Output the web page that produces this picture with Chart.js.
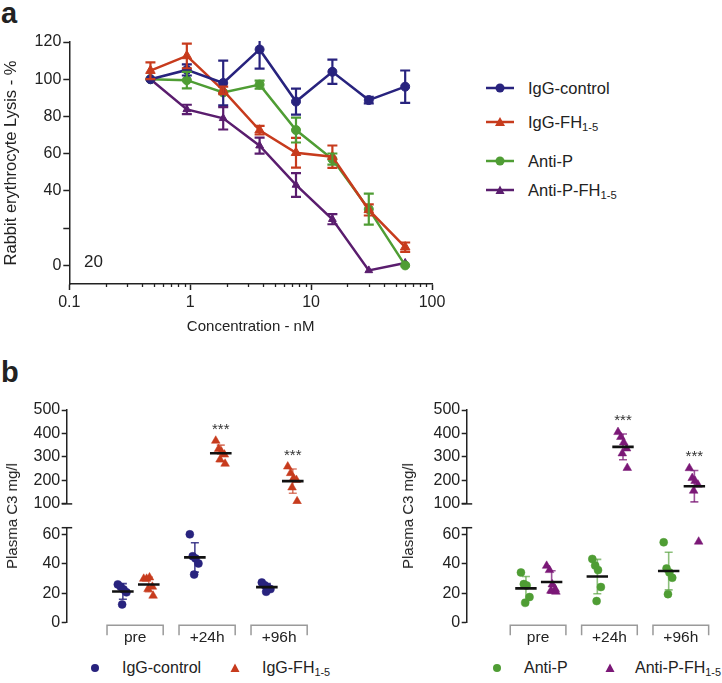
<!DOCTYPE html>
<html>
<head>
<meta charset="utf-8">
<title>Lysis and plasma C3</title>
<script src="https://cdn.jsdelivr.net/npm/chart.js@4.4.1/dist/chart.umd.min.js"></script>
<style>
  body { margin: 0; background: #fff; font-family: "Liberation Sans", Arial, sans-serif; color: #222; }
  #page { position: relative; width: 722px; height: 683px; overflow: hidden; }
  #page canvas, .txt, .leg { position: absolute; }
  .panel { font-weight: bold; font-size: 29px; line-height: 1; }
  .ytitle { font-size: 15px; line-height: 18px; white-space: nowrap; transform: translate(-50%, -50%) rotate(-90deg); }
  .leg { display: flex; align-items: center; height: 20px; white-space: nowrap; }
  .leg span { line-height: 20px; }
  sub { font-size: 0.68em; vertical-align: -0.3em; line-height: 0; }
</style>
</head>
<body>
<div id="page">
  <div class="txt panel" style="left:1px;top:-1px">a</div>
  <div class="txt panel" style="left:1px;top:358px">b</div>

  <canvas id="lysis" width="460" height="340" style="left:0;top:0"></canvas>
  <div class="txt" style="left:84px;top:253px;font-size:17px;line-height:1">20</div>

  <div class="leg" style="left:486px;top:78px;font-size:16.5px">
    <svg width="28" height="12" style="margin-right:14px"><line x1="0" y1="6" x2="28" y2="6" stroke="#28237e" stroke-width="2.5"/><circle cx="14" cy="6" r="4.5" fill="#28237e"/></svg>
    <span>IgG-control</span></div>
  <div class="leg" style="left:486px;top:112px;font-size:16.5px">
    <svg width="28" height="12" style="margin-right:14px"><line x1="0" y1="6" x2="28" y2="6" stroke="#c73b1d" stroke-width="2.5"/><polygon points="14,1 19,10 9,10" fill="#c73b1d"/></svg>
    <span>IgG-FH<sub>1-5</sub></span></div>
  <div class="leg" style="left:486px;top:151px;font-size:16.5px">
    <svg width="28" height="12" style="margin-right:14px"><line x1="0" y1="6" x2="28" y2="6" stroke="#4f9d34" stroke-width="2.5"/><circle cx="14" cy="6" r="4.5" fill="#4f9d34"/></svg>
    <span>Anti-P</span></div>
  <div class="leg" style="left:486px;top:180px;font-size:16.5px">
    <svg width="28" height="12" style="margin-right:14px"><line x1="0" y1="6" x2="28" y2="6" stroke="#5a1d6e" stroke-width="2.5"/><polygon points="14,1.5 18.5,10 9.5,10" fill="#5a1d6e"/></svg>
    <span>Anti-P-FH<sub>1-5</sub></span></div>

  <canvas id="c3IggHigh" width="340" height="120" style="left:0;top:395px"></canvas>
  <canvas id="c3IggLow" width="340" height="135" style="left:0;top:515px"></canvas>
  <canvas id="c3AntiHigh" width="322" height="120" style="left:400px;top:395px"></canvas>
  <canvas id="c3AntiLow" width="322" height="135" style="left:400px;top:515px"></canvas>
  <div class="txt ytitle" style="left:12px;top:516px">Plasma C3 mg/l</div>
  <div class="txt ytitle" style="left:408px;top:516px">Plasma C3 mg/l</div>

  <div class="leg" style="left:90px;top:658px;font-size:16px">
    <svg width="10" height="10" style="margin-right:22px"><circle cx="5" cy="5" r="4" fill="#28237e"/></svg><span>IgG-control</span></div>
  <div class="leg" style="left:230px;top:658px;font-size:16px">
    <svg width="10" height="10" style="margin-right:22px"><polygon points="5,0.5 9.5,9 0.5,9" fill="#c73b1d"/></svg><span>IgG-FH<sub>1-5</sub></span></div>
  <div class="leg" style="left:492px;top:658px;font-size:16px">
    <svg width="10" height="10" style="margin-right:22px"><circle cx="5" cy="5" r="4" fill="#4f9d34"/></svg><span>Anti-P</span></div>
  <div class="leg" style="left:605px;top:658px;font-size:16px">
    <svg width="10" height="10" style="margin-right:20px"><polygon points="5,0.5 9.5,9 0.5,9" fill="#7b1877"/></svg><span>Anti-P-FH<sub>1-5</sub></span></div>
</div>

<script>
const AXIS = '#222';
const NAVY = '#28237e', RED = '#c73b1d', GREEN = '#4f9d34', PURPLE = '#5a1d6e', MAGENTA = '#7b1877';

// panel a - lysis vs concentration (mean +/- error)
const CONC = [0.469, 0.938, 1.875, 3.75, 7.5, 15, 30, 60];
const LYSIS_IGG_CTRL = [100, 105, 98, 116, 88, 104, 88.8, 96];
const ERR_IGG_CTRL = [0, 3, 12, 10.3, 7, 6.5, 1.8, 8.7];
const LYSIS_IGG_FH = [104.6, 112.5, 94, 72.6, 60.5, 58.4, 29.8, 9.8];
const ERR_IGG_FH = [4.5, 6.6, 2, 2.3, 8, 6, 3, 2.5];
const LYSIS_ANTI_P = [100, 99.5, 92.9, 97.1, 72.7, 57.1, 30.2, 0];
const ERR_ANTI_P = [0, 4.4, 0, 2.2, 6.7, 3, 8.3, 0];
const LYSIS_ANTI_P_FH = [100, 83.8, 79, 64.3, 43.2, 24.8, -2.7, 1.3];
const ERR_ANTI_P_FH = [0, 2.5, 6, 4.3, 6.4, 2.7, 0, 0];
const X_MAJOR = [0.1, 1, 10, 100];
const Y_TICKS = [0, 20, 40, 60, 80, 100, 120];
const Y_LABELS = ['0', '', '40', '60', '80', '100', '120'];

// panel b - plasma C3 per animal, one inner array per time point
const GROUPS = ['pre', '+24h', '+96h'];
const SIGNIF = ['', '***', '***'];
const C3_IGG_CTRL = [[26, 24.4, 22.6, 20.6, 12.4], [60, 45.1, 43.6, 40.2, 32.7], [27.3, 25.5, 24, 22.8, 21]];
const C3_IGG_FH = [[29.8, 29.8, 30.7, 24.4, 22.8, 18.3], [369, 334, 322, 310, 289, 271], [259, 231, 209, 202, 170, 111]];
const C3_ANTI_P = [[34.1, 26.2, 25.3, 17.4, 13.5], [43.3, 38.8, 35.7, 24.2, 14.7], [54.6, 36.8, 34.1, 30.5, 19.4]];
const C3_ANTI_P_FH = [[38.6, 35.7, 26, 22.8, 21.7, 21], [406, 385, 362, 336, 315, 253], [252, 210, 198, 182, 156, 55]];
const C3_HIGH_TICKS = [100, 200, 300, 400, 500];
const C3_LOW_TICKS = [0, 20, 40, 60];

const JITTER = [-0.07, -0.03, 0.01, 0.05, -0.01, 0.06];

Chart.defaults.font.family = '"Liberation Sans", Arial, sans-serif';
Chart.defaults.font.size = 16;
Chart.defaults.color = AXIS;

const mean = a => a.reduce((s, v) => s + v, 0) / a.length;
const sd = a => { const m = mean(a); return Math.sqrt(a.reduce((s, v) => s + (v - m) ** 2, 0) / (a.length - 1)); };

function clipArea(ctx, a) {
  ctx.beginPath();
  ctx.rect(a.left, a.top - 1, a.right - a.left, a.bottom - a.top + 2);
  ctx.clip();
}

function seg(ctx, x1, y1, x2, y2) {
  ctx.beginPath(); ctx.moveTo(x1, y1); ctx.lineTo(x2, y2); ctx.stroke();
}

const errorBars = {
  id: 'errorBars',
  afterDatasetsDraw(chart) {
    const { ctx, chartArea, scales: { x, y } } = chart;
    ctx.save();
    clipArea(ctx, chartArea);
    ctx.lineWidth = 2.2;
    chart.data.datasets.forEach(ds => {
      ctx.strokeStyle = ds.borderColor;
      ds.data.forEach((p, i) => {
        const e = ds.errs[i];
        if (!e) return;
        const px = x.getPixelForValue(p.x);
        const top = y.getPixelForValue(p.y + e), bot = y.getPixelForValue(p.y - e);
        seg(ctx, px, top, px, bot);
        seg(ctx, px - 5, top, px + 5, top);
        seg(ctx, px - 5, bot, px + 5, bot);
      });
    });
    ctx.restore();
  }
};

const minorTicks = {
  id: 'minorTicks',
  afterDraw(chart) {
    const { ctx, chartArea, scales: { x } } = chart;
    ctx.save();
    ctx.strokeStyle = AXIS; ctx.lineWidth = 1.3;
    x.ticks.forEach(t => {
      if (X_MAJOR.includes(t.value)) return;
      const px = Math.round(x.getPixelForValue(t.value)) + 0.5;
      seg(ctx, px, chartArea.bottom, px, chartArea.bottom + 3);
    });
    ctx.restore();
  }
};

function lysisSet(label, values, errs, color, style, radius) {
  return {
    label, errs,
    data: CONC.map((c, i) => ({ x: c, y: values[i] })),
    borderColor: color, backgroundColor: color,
    borderWidth: 2.5, pointStyle: style, pointRadius: radius, pointBorderWidth: 1,
    tension: 0
  };
}

const xTicks = [];
X_MAJOR.forEach((d, k) => {
  xTicks.push(d);
  if (k < X_MAJOR.length - 1) [2, 3, 4, 5, 6, 7, 8, 9].forEach(m => xTicks.push(d * m));
});

new Chart(document.getElementById('lysis'), {
  type: 'line',
  data: {
    datasets: [
      lysisSet('IgG-control', LYSIS_IGG_CTRL, ERR_IGG_CTRL, NAVY, 'circle', 4.5),
      lysisSet('IgG-FH1-5', LYSIS_IGG_FH, ERR_IGG_FH, RED, 'triangle', 5.5),
      lysisSet('Anti-P', LYSIS_ANTI_P, ERR_ANTI_P, GREEN, 'circle', 4.5),
      lysisSet('Anti-P-FH1-5', LYSIS_ANTI_P_FH, ERR_ANTI_P_FH, PURPLE, 'triangle', 4.5)
    ]
  },
  options: {
    responsive: false, animation: false, devicePixelRatio: 1, events: [],
    layout: { padding: { top: 42, right: 28, bottom: 0, left: 0 } },
    plugins: { legend: { display: false }, tooltip: { enabled: false } },
    scales: {
      x: {
        type: 'logarithmic', min: 0.1, max: 100,
        afterBuildTicks: s => { s.ticks = xTicks.map(v => ({ value: v })); },
        afterFit: s => { s.height = 56; },
        ticks: { autoSkip: false, maxRotation: 0, padding: 3, callback: v => X_MAJOR.includes(v) ? String(v) : '' },
        grid: { drawOnChartArea: false, tickLength: 6, tickWidth: 1.5,
                tickColor: c => X_MAJOR.includes(c.tick.value) ? AXIS : 'rgba(0,0,0,0)' },
        border: { color: AXIS, width: 1.5 },
        title: { display: true, text: 'Concentration - nM', font: { size: 15 }, padding: { top: 4, bottom: 4 } }
      },
      y: {
        min: -10, max: 120,
        afterBuildTicks: s => { s.ticks = Y_TICKS.map(v => ({ value: v })); },
        afterFit: s => { s.width = 69.3; },
        ticks: { padding: 2, autoSkip: false, callback: (v, i) => Y_LABELS[i] },
        grid: { drawOnChartArea: false, tickLength: 6, tickWidth: 1.5, tickColor: AXIS },
        border: { color: AXIS, width: 1.5 },
        title: { display: true, text: 'Rabbit erythrocyte Lysis - %', font: { size: 16.5 }, padding: { top: 2, bottom: 0 } }
      }
    }
  },
  plugins: [errorBars, minorTicks]
});

// panel b helpers
const meanSd = {
  id: 'meanSd',
  beforeDatasetsDraw(chart) {
    const { ctx, chartArea, scales: { x, y } } = chart;
    ctx.save();
    clipArea(ctx, chartArea);
    ctx.lineWidth = 1.6;
    chart.data.datasets.forEach(ds => {
      ctx.strokeStyle = ds.sdColor;
      ds.groups.forEach((vals, g) => {
        const m = mean(vals), s = sd(vals);
        const px = x.getPixelForValue(g + ds.offset);
        const top = y.getPixelForValue(m + s), bot = y.getPixelForValue(m - s);
        seg(ctx, px, top, px, bot);
        seg(ctx, px - 4, top, px + 4, top);
        seg(ctx, px - 4, bot, px + 4, bot);
      });
    });
    ctx.restore();
  },
  afterDatasetsDraw(chart) {
    const { ctx, chartArea, scales: { x, y } } = chart;
    ctx.save();
    clipArea(ctx, chartArea);
    ctx.strokeStyle = '#111'; ctx.lineWidth = 2.6;
    chart.data.datasets.forEach(ds => {
      ds.groups.forEach((vals, g) => {
        const py = y.getPixelForValue(mean(vals));
        seg(ctx, x.getPixelForValue(g + ds.offset - 0.15), py, x.getPixelForValue(g + ds.offset + 0.15), py);
      });
    });
    ctx.restore();
  }
};

const stars = {
  id: 'stars',
  afterDatasetsDraw(chart) {
    const { ctx, scales: { x, y } } = chart;
    const ds = chart.data.datasets[1];
    ctx.save();
    ctx.fillStyle = '#333'; ctx.font = '15px "Liberation Sans", Arial'; ctx.textAlign = 'center'; ctx.textBaseline = 'middle';
    SIGNIF.forEach((s, g) => {
      if (!s) return;
      ctx.fillText(s, x.getPixelForValue(g + ds.offset), y.getPixelForValue(Math.max(...ds.groups[g])) - 11);
    });
    ctx.restore();
  }
};

const axisBreak = {
  id: 'axisBreak',
  afterDraw(chart, args, opts) {
    const { ctx, chartArea } = chart;
    const py = opts.at === 'bottom' ? chartArea.bottom : chartArea.top;
    ctx.save();
    ctx.strokeStyle = AXIS; ctx.lineWidth = 1.5;
    seg(ctx, chartArea.left - 5, py, chartArea.left + 5.5, py);
    ctx.restore();
  }
};

const brackets = {
  id: 'brackets',
  afterDraw(chart) {
    const { ctx, chartArea, scales: { x } } = chart;
    if (!x.options.display) return;
    const t = chartArea.bottom + 2.5;
    ctx.save();
    ctx.strokeStyle = '#9a9a9a'; ctx.lineWidth = 1.5;
    GROUPS.forEach((g, i) => {
      const l = x.getPixelForValue(i - 0.39), r = x.getPixelForValue(i + 0.39);
      ctx.beginPath(); ctx.moveTo(l, t + 10); ctx.lineTo(l, t); ctx.lineTo(r, t); ctx.lineTo(r, t + 10); ctx.stroke();
    });
    ctx.restore();
  }
};

function c3Set(label, groups, color, sdColor, style, radius, offset) {
  const data = [];
  groups.forEach((vals, g) => vals.forEach((v, i) => data.push({ x: g + offset + JITTER[i], y: v })));
  return {
    label, groups, offset, sdColor, data,
    backgroundColor: color, borderColor: color,
    pointStyle: style, pointRadius: radius, pointBorderWidth: 0.5, showLine: false
  };
}

function c3Chart(id, high, sets, xMin, xMax, padRight) {
  return new Chart(document.getElementById(id), {
    type: 'scatter',
    data: { datasets: sets },
    options: {
      responsive: false, animation: false, devicePixelRatio: 1, events: [],
      layout: { padding: high ? { top: 15, bottom: 10, left: 0, right: padRight } : { top: 12.7, bottom: 0, left: 0, right: padRight } },
      plugins: { legend: { display: false }, tooltip: { enabled: false }, axisBreak: { at: high ? 'bottom' : 'top' } },
      scales: {
        x: {
          type: 'linear', min: xMin, max: xMax, display: !high,
          afterBuildTicks: s => { s.ticks = GROUPS.map((g, i) => ({ value: i })); },
          afterFit: s => { s.height = high ? 0 : 27.3; },
          ticks: { padding: 6, autoSkip: false, maxRotation: 0, font: { size: 15.5 }, callback: v => GROUPS[v] },
          grid: { display: false, drawTicks: false },
          border: { display: false }
        },
        y: {
          min: high ? 100 : 0, max: high ? 500 : 64.5,
          afterBuildTicks: s => { s.ticks = (high ? C3_HIGH_TICKS : C3_LOW_TICKS).map(v => ({ value: v })); },
          afterFit: s => { s.width = 66.7; },
          ticks: { padding: 1.5, autoSkip: false },
          grid: { drawOnChartArea: false, tickLength: 5, tickWidth: 1.5, tickColor: AXIS },
          border: { color: AXIS, width: 1.5 }
        }
      }
    },
    plugins: high ? [meanSd, stars, axisBreak] : [meanSd, axisBreak, brackets]
  });
}

function iggSets() {
  return [
    c3Set('IgG-control', C3_IGG_CTRL, NAVY, 'rgba(40,35,126,0.85)', 'circle', 4, -0.17),
    c3Set('IgG-FH1-5', C3_IGG_FH, RED, 'rgba(199,59,29,0.65)', 'triangle', 5, 0.19)
  ];
}
function antiSets() {
  return [
    c3Set('Anti-P', C3_ANTI_P, GREEN, 'rgba(79,157,52,0.65)', 'circle', 4, -0.17),
    c3Set('Anti-P-FH1-5', C3_ANTI_P_FH, MAGENTA, 'rgba(123,24,119,0.75)', 'triangle', 5, 0.19)
  ];
}

c3Chart('c3IggHigh', true, iggSets(), -0.95, 2.6, 17.7);
c3Chart('c3IggLow', false, iggSets(), -0.95, 2.6, 17.7);
c3Chart('c3AntiHigh', true, antiSets(), -1.0, 2.5, 3.3);
c3Chart('c3AntiLow', false, antiSets(), -1.0, 2.5, 3.3);
</script>
</body>
</html>
